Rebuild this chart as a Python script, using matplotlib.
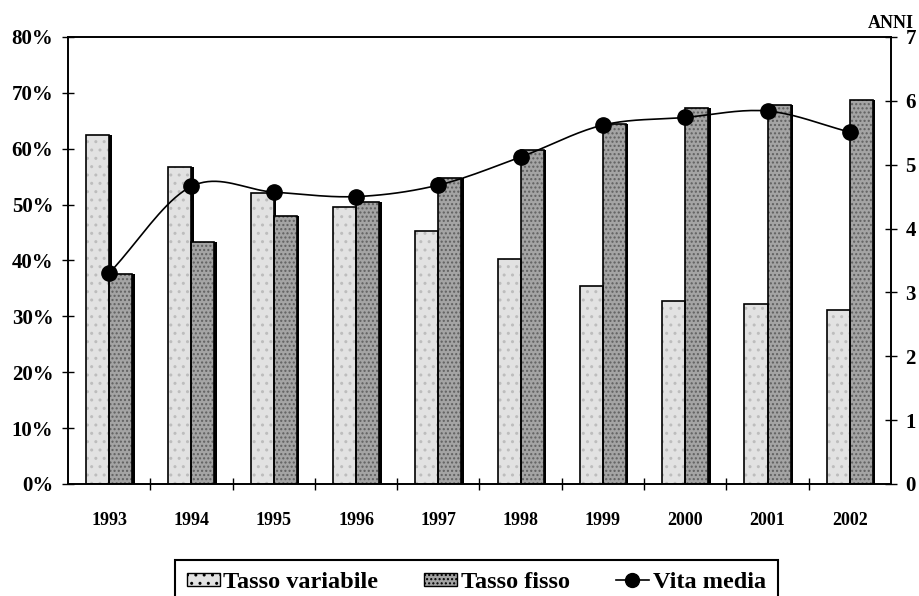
import numpy as np
import matplotlib.pyplot as plt
from matplotlib.patches import Patch
from matplotlib.lines import Line2D

anni = ['1993', '1994', '1995', '1996', '1997', '1998', '1999', '2000', '2001', '2002']
tasso_variabile = [62.5, 56.7, 52.0, 49.5, 45.3, 40.3, 35.5, 32.8, 32.2, 31.2]
tasso_fisso = [37.5, 43.3, 48.0, 50.5, 54.7, 59.7, 64.5, 67.2, 67.8, 68.8]
vita_media = [3.30, 4.66, 4.57, 4.50, 4.68, 5.12, 5.62, 5.74, 5.84, 5.51]

SERIF = ['Liberation Serif', 'DejaVu Serif']
plt.rcParams['font.family'] = SERIF
plt.rcParams['font.weight'] = 'bold'


def catmull_rom(x, y, n=20):
    # smooth curve through the points, like the spreadsheet "smoothed line"
    x = np.asarray(x, float)
    y = np.asarray(y, float)
    px = np.concatenate([[2 * x[0] - x[1]], x, [2 * x[-1] - x[-2]]])
    py = np.concatenate([[2 * y[0] - y[1]], y, [2 * y[-1] - y[-2]]])
    xs, ys = [], []
    t = np.linspace(0, 1, n, endpoint=False)
    for i in range(1, len(px) - 2):
        for p, out in ((px, xs), (py, ys)):
            p0, p1, p2, p3 = p[i - 1], p[i], p[i + 1], p[i + 2]
            out.extend(0.5 * (2 * p1 + (-p0 + p2) * t
                              + (2 * p0 - 5 * p1 + 4 * p2 - p3) * t ** 2
                              + (-p0 + 3 * p1 - 3 * p2 + p3) * t ** 3))
    xs.append(x[-1])
    ys.append(y[-1])
    return np.array(xs), np.array(ys)


fig = plt.figure(figsize=(9.19, 5.96), dpi=100)
ax = fig.add_axes([0.074, 0.188, 0.8955, 0.750])
ax2 = ax.twinx()

pos = np.arange(len(anni))
w = 0.28
light = '#e2e2e2'
dark = '#a4a4a4'

# shadow on the right side of each bar
ax.bar(pos - w / 2 + 0.03, tasso_variabile, w, color='black', zorder=1)
ax.bar(pos + w / 2 + 0.03, tasso_fisso, w, color='black', zorder=1)
# grainy fills
ax.bar(pos - w / 2, tasso_variabile, w, color=light, hatch='..', edgecolor='#bdbdbd', lw=0, zorder=2)
ax.bar(pos + w / 2, tasso_fisso, w, color=dark, hatch='....', edgecolor='#606060', lw=0, zorder=2)
# outlines
ax.bar(pos - w / 2, tasso_variabile, w, fill=False, edgecolor='black', lw=1.2, zorder=3)
ax.bar(pos + w / 2, tasso_fisso, w, fill=False, edgecolor='black', lw=1.2, zorder=3)

ax.set_xlim(-0.5, len(anni) - 0.5)
ax.set_ylim(0, 80)
ax.set_yticks(np.arange(0, 81, 10))
ax.set_yticklabels([f'{v}%' for v in range(0, 81, 10)], fontsize=15, fontweight='bold')
ax.set_xticks(pos)
ax.set_xticklabels(anni, fontsize=13, fontweight='bold')
ax.set_xticks(np.arange(0.5, len(anni) - 1, 1), minor=True)
ax.tick_params(axis='x', which='major', length=0, pad=20)
ax.tick_params(axis='x', which='minor', direction='inout', length=9, width=1)
ax.tick_params(axis='y', direction='inout', length=9, width=1, pad=6)

sx, sy = catmull_rom(pos, vita_media)
ax2.plot(sx, sy, color='black', lw=1.2, zorder=4)
ax2.plot(pos, vita_media, 'o', color='black', ms=11, zorder=5)
ax2.set_ylim(0, 7)
ax2.set_yticks(range(0, 8))
ax2.set_yticklabels([str(v) for v in range(0, 8)], fontsize=15, fontweight='bold')
ax2.tick_params(axis='y', direction='inout', length=9, width=1, pad=6)
ax2.text(1.0, 1.012, 'ANNI', transform=ax2.transAxes, ha='center', va='bottom',
         fontsize=13, fontweight='bold')

for a in (ax, ax2):
    for s in a.spines.values():
        s.set_linewidth(1.2)

handles = [
    Patch(facecolor=light, edgecolor='black', hatch='..', lw=1),
    Patch(facecolor=dark, edgecolor='black', hatch='....', lw=1),
    Line2D([0], [0], color='black', lw=1.2, marker='o', ms=10),
]
# legend box runs off the bottom edge of the figure
leg = ax.legend(handles, ['Tasso variabile', 'Tasso fisso', 'Vita media'],
                loc='upper center', bbox_to_anchor=(0.496, -0.170), ncol=3,
                frameon=True, fancybox=False, framealpha=1, edgecolor='black',
                prop={'family': SERIF, 'size': 17.5, 'weight': 'bold'},
                handlelength=1.35, handleheight=0.5, handletextpad=0.15,
                columnspacing=1.9, borderpad=0.5, borderaxespad=0)
leg.get_frame().set_linewidth(1.5)

fig.savefig('out.png', dpi=100)
